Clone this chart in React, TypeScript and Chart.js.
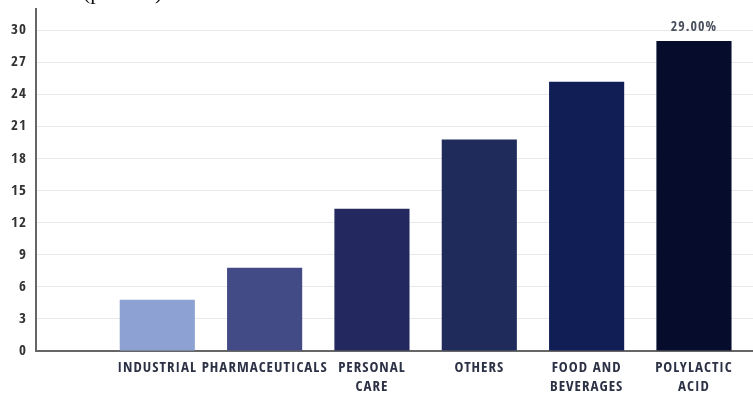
import React, { useEffect, useRef } from "react";
import { Chart, registerables } from "chart.js";

Chart.register(...registerables);

// Market share by application segment (%)
const CATEGORIES = [
  "INDUSTRIAL",
  "PHARMACEUTICALS",
  "PERSONAL CARE",
  "OTHERS",
  "FOOD AND BEVERAGES",
  "POLYLACTIC ACID",
];
const TICK_LABELS: string[][] = [
  ["INDUSTRIAL"],
  ["PHARMACEUTICALS"],
  ["PERSONAL", "CARE"],
  ["OTHERS"],
  ["FOOD AND", "BEVERAGES"],
  ["POLYLACTIC", "ACID"],
];
const SHARES = [4.8, 7.8, 13.3, 19.8, 25.2, 29.0];
const SHOW_VALUE = [false, false, false, false, false, true];
const BAR_COLORS = ["#8da2d3", "#434b87", "#23295f", "#1f2b5b", "#111d55", "#060d2c"];
const Y_TICKS = [0, 3, 6, 9, 12, 15, 18, 21, 24, 27, 30];
const Y_MAX = 32;

const FONT_FAMILY = "'Open Sans Condensed', 'Roboto Condensed', 'DejaVu Sans Condensed', sans-serif";

const valueLabelPlugin = {
  id: "valueLabels",
  beforeDraw(chart: any) {
    chart.ctx.letterSpacing = "1px";
  },
  afterDatasetsDraw(chart: any) {
    const ctx = chart.ctx;
    const meta = chart.getDatasetMeta(0);
    ctx.save();
    ctx.font = `bold 14px ${FONT_FAMILY}`;
    ctx.fillStyle = "#4a4f5e";
    ctx.textAlign = "center";
    ctx.textBaseline = "bottom";
    meta.data.forEach((bar: any, i: number) => {
      if (!SHOW_VALUE[i]) return;
      ctx.fillText(`${SHARES[i].toFixed(2)}%`, bar.x, bar.y - 7);
    });
    ctx.restore();
  },
};

export default function App() {
  const canvasRef = useRef<HTMLCanvasElement | null>(null);

  useEffect(() => {
    if (!canvasRef.current) return;
    const chart = new Chart(canvasRef.current, {
      type: "bar",
      data: {
        datasets: [
          {
            label: "Share",
            data: SHARES.map((v, i) => ({ x: i, y: v })),
            backgroundColor: BAR_COLORS,
            borderWidth: 0,
            categoryPercentage: 0.8,
            barPercentage: 0.875,
          },
        ],
      },
      options: {
        responsive: false,
        animation: false,
        layout: { padding: { top: 9, right: 0, left: 0, bottom: 0 } },
        plugins: {
          legend: { display: false },
          tooltip: { enabled: false },
          title: { display: false },
        },
        scales: {
          x: {
            type: "linear",
            offset: false,
            min: -1.13,
            max: 5.55,
            grid: { display: false, drawTicks: false, offset: false },
            border: { display: true, color: "#666666", width: 2 },
            afterBuildTicks: (axis: any) => {
              axis.ticks = CATEGORIES.map((_, i) => ({ value: i }));
            },
            afterFit: (axis: any) => {
              axis.height = 43;
              axis.paddingLeft = 0;
              axis.paddingRight = 0;
            },
            ticks: {
              autoSkip: false,
              maxRotation: 0,
              minRotation: 0,
              padding: 7,
              color: "#2c3145",
              font: { family: FONT_FAMILY, size: 15, weight: "bold", lineHeight: 1.3 },
              callback: (value: any) => TICK_LABELS[Math.round(Number(value))] ?? "",
            },
          },
          y: {
            min: 0,
            max: Y_MAX,
            grid: { color: "#e8e8e8", lineWidth: 1, drawTicks: false },
            border: { display: true, color: "#666666", width: 2 },
            afterBuildTicks: (axis: any) => {
              axis.ticks = Y_TICKS.map((v) => ({ value: v }));
            },
            afterFit: (axis: any) => {
              axis.width = 36;
              axis.paddingTop = 0;
              axis.paddingBottom = 0;
            },
            ticks: {
              padding: 9,
              color: "#333333",
              font: { family: FONT_FAMILY, size: 15, weight: "bold" },
            },
          },
        },
      },
      plugins: [valueLabelPlugin],
    });
    return () => chart.destroy();
  }, []);

  return (
    <div style={{ position: "fixed", left: 0, top: 0, width: 753, height: 394, background: "#ffffff", overflow: "hidden" }}>
      <canvas ref={canvasRef} width={753} height={394} style={{ display: "block" }} />
      <div
        style={{
          position: "absolute",
          left: 83,
          top: -19,
          fontFamily: "'Liberation Serif', 'Times New Roman', serif",
          fontSize: 22,
          lineHeight: "22px",
          color: "#111111",
          whiteSpace: "nowrap",
        }}
      >
        (percent)
      </div>
    </div>
  );
}
